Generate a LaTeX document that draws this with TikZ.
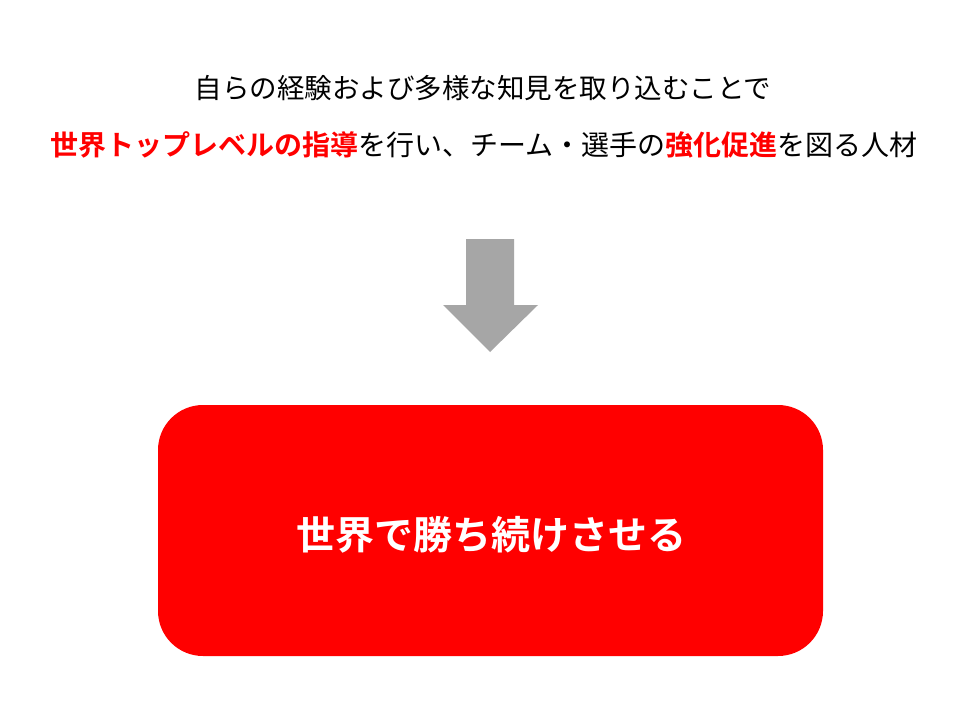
\documentclass[tikz,border=0pt]{standalone}
\usepackage{fontspec}
\newfontfamily\jp{Noto Sans CJK JP}[BoldFont={Noto Sans CJK JP Bold}]
\definecolor{accent}{HTML}{FF0000}
\definecolor{arrowgray}{HTML}{A6A6A6}
\tikzset{
  linetext/.style={inner sep=0pt, font=\jp\fontsize{27.5}{33}\selectfont, text=black},
  goalbox/.style={fill=accent, draw=none, rounded corners=45pt, minimum width=665pt, minimum height=251pt},
  goaltext/.style={inner sep=0pt, text=white, font=\jp\bfseries\fontsize{39}{46}\selectfont},
  downarrow/.style={fill=arrowgray, draw=none}
}
\newcommand{\hl}[1]{\textcolor{accent}{\bfseries #1}}
\begin{document}
\begin{tikzpicture}[x=1pt,y=-1pt]
\useasboundingbox[fill=white] (0,0) rectangle (960,720);
\node[linetext] (line1) at (483,88) {自らの経験および多様な知見を取り込むことで};
\node[linetext, font=\jp\fontsize{28}{33}\selectfont] (line2) at (484,145) {\hl{世界トップレベルの指導}を行い、チーム・選手の\hl{強化促進}を図る人材};
\coordinate (tip) at (490,352);
\fill[downarrow] (466,239) -- (514,239) -- (514,305) -- (538,305) -- (tip) -- (443,305) -- (466,305) -- cycle;
\node[goalbox] (goal) at (490.5,530.5) {};
\node[goaltext] (goallabel) at ([xshift=1pt,yshift=-4pt]goal.center) {世界で勝ち続けさせる};
\end{tikzpicture}
\end{document}
